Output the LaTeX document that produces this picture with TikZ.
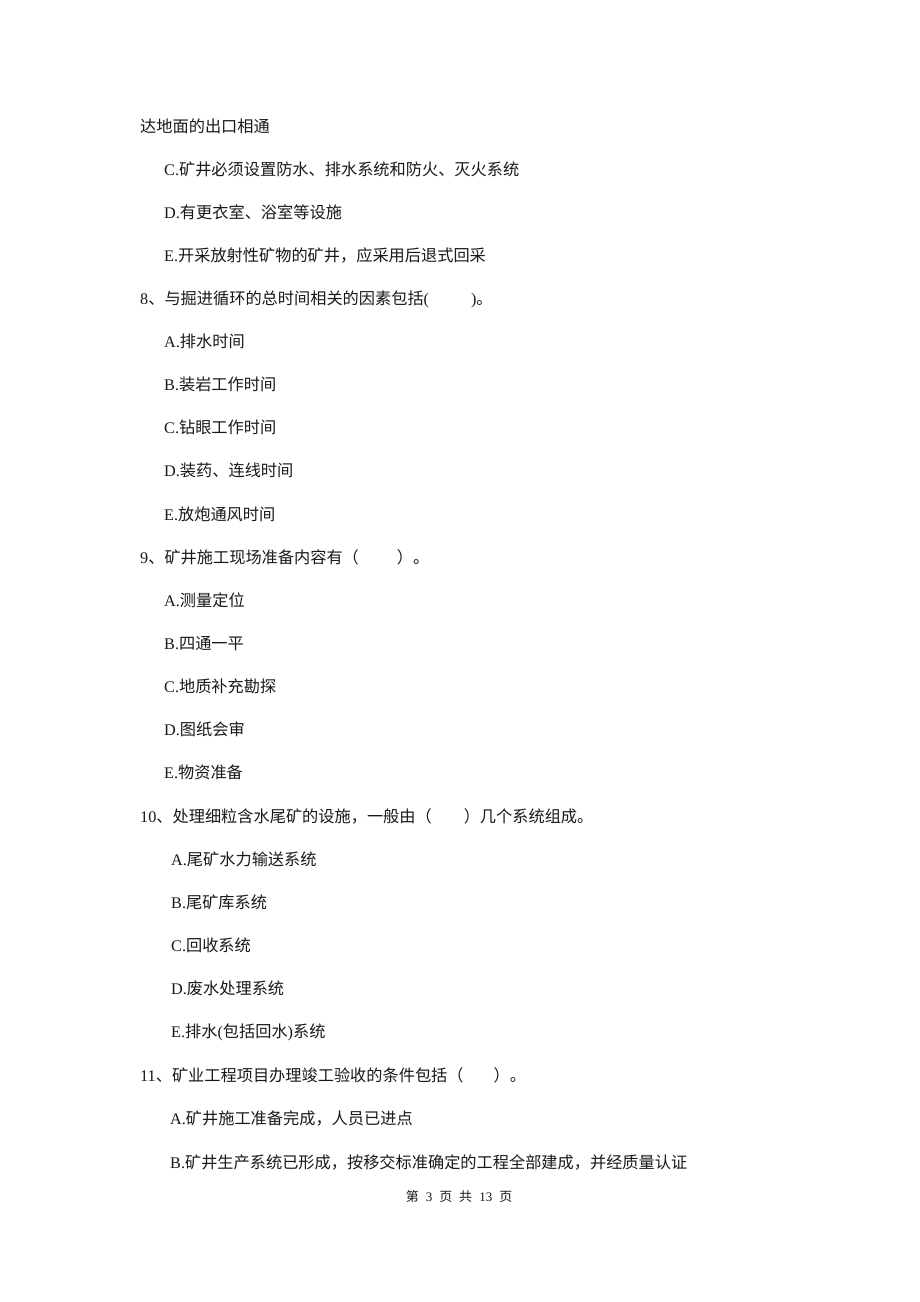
\documentclass[tikz,border=0pt]{standalone}
\usepackage{fontspec}
\usepackage{tikz}
\usetikzlibrary{positioning}
\setmainfont{Liberation Serif}
\newfontfamily\cjk{Noto Sans CJK SC}
\newfontfamily\latin{Liberation Serif}
\newcommand{\lt}[1]{{\latin #1}}
\definecolor{PageInk}{RGB}{25,25,25}
\tikzset{
    qline/.style={anchor=base west, inner sep=0pt, text=PageInk, font=\cjk\fontsize{16.2}{19}\selectfont},
    pagefoot/.style={anchor=base, inner sep=0pt, text=PageInk, font=\cjk\fontsize{13}{15}\selectfont}
}
\begin{document}
\begin{tikzpicture}[x=1pt, y=-1pt]
    % page frame
    \useasboundingbox[fill=white] (0,0) rectangle (920,1302);

    % --- end of question 7 ---
    \node[qline] (q7tail) at (140,132) {达地面的出口相通};
    \node[qline] (q7c) at (164,175) {\lt{C.}矿井必须设置防水、排水系统和防火、灭火系统};
    \node[qline] (q7d) at (164,218) {\lt{D.}有更衣室、浴室等设施};
    \node[qline] (q7e) at (164,261) {\lt{E.}开采放射性矿物的矿井，应采用后退式回采};

    % --- question 8 ---
    \node[qline] (q8) at (140,304) {\lt{8}、与掘进循环的总时间相关的因素包括\lt{(}\hspace{42pt}\lt{)}。};
    \node[qline] (q8a) at (164,347) {\lt{A.}排水时间};
    \node[qline] (q8b) at (164,390) {\lt{B.}装岩工作时间};
    \node[qline] (q8c) at (164,433) {\lt{C.}钻眼工作时间};
    \node[qline] (q8d) at (164,476) {\lt{D.}装药、连线时间};
    \node[qline] (q8e) at (164,520) {\lt{E.}放炮通风时间};

    % --- question 9 ---
    \node[qline] (q9) at (140,563) {\lt{9}、矿井施工现场准备内容有（\hspace{38pt}）。};
    \node[qline] (q9a) at (164,606) {\lt{A.}测量定位};
    \node[qline] (q9b) at (164,649) {\lt{B.}四通一平};
    \node[qline] (q9c) at (164,692) {\lt{C.}地质补充勘探};
    \node[qline] (q9d) at (164,735) {\lt{D.}图纸会审};
    \node[qline] (q9e) at (164,778) {\lt{E.}物资准备};

    % --- question 10 ---
    \node[qline] (q10) at (140,822) {\lt{10}、处理细粒含水尾矿的设施，一般由（\hspace{32pt}）几个系统组成。};
    \node[qline] (q10a) at (171,865) {\lt{A.}尾矿水力输送系统};
    \node[qline] (q10b) at (171,908) {\lt{B.}尾矿库系统};
    \node[qline] (q10c) at (171,951) {\lt{C.}回收系统};
    \node[qline] (q10d) at (171,994) {\lt{D.}废水处理系统};
    \node[qline] (q10e) at (171,1037) {\lt{E.}排水\lt{(}包括回水\lt{)}系统};

    % --- question 11 ---
    \node[qline] (q11) at (140,1081) {\lt{11}、矿业工程项目办理竣工验收的条件包括（\hspace{30pt}）。};
    \node[qline] (q11a) at (170,1124) {\lt{A.}矿井施工准备完成，人员已进点};
    \node[qline] (q11b) at (170,1168) {\lt{B.}矿井生产系统已形成，按移交标准确定的工程全部建成，并经质量认证};

    % page number
    \node[pagefoot] (foot) at (459,1201) {第\hspace{7pt}\lt{3}\hspace{7pt}页\hspace{7pt}共\hspace{7pt}\lt{13}\hspace{7pt}页};
\end{tikzpicture}
\end{document}
